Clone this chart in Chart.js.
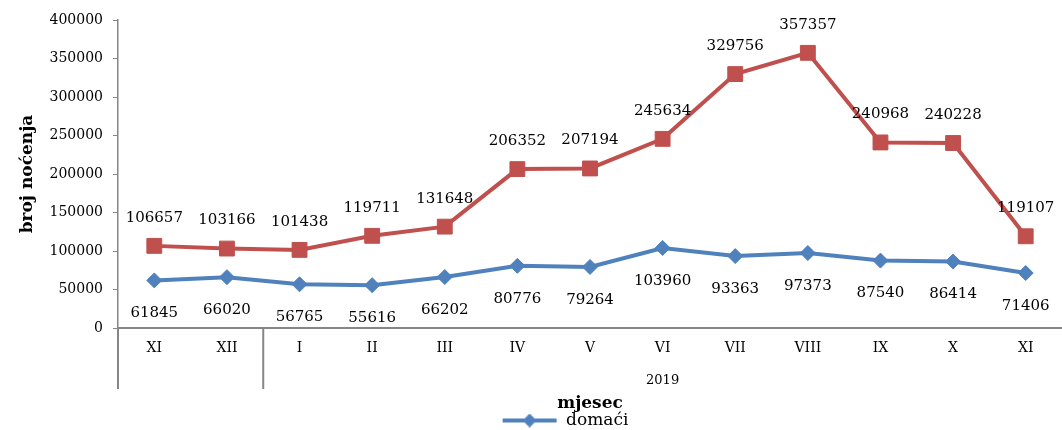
<!DOCTYPE html>
<html>
<head>
<meta charset="utf-8">
<script src="https://cdn.jsdelivr.net/npm/chart.js@4.4.1/dist/chart.umd.min.js"></script>
<style>
  html, body { margin: 0; padding: 0; background: #fff; overflow: hidden; }
  #wrap { width: 1062px; height: 430px; position: relative; }
</style>
</head>
<body>
<div id="wrap"><canvas id="myChart"></canvas></div>
<script>
const months = ['XI', 'XII', 'I', 'II', 'III', 'IV', 'V', 'VI', 'VII', 'VIII', 'IX', 'X', 'XI'];
const domaci = [61845, 66020, 56765, 55616, 66202, 80776, 79264, 103960, 93363, 97373, 87540, 86414, 71406];
const strani = [106657, 103166, 101438, 119711, 131648, 206352, 207194, 245634, 329756, 357357, 240968, 240228, 119107];
const yearLabels = ['', '2019'];
const yearSpans = [2, 11];

Chart.defaults.font.family = 'DejaVu Serif';
Chart.defaults.color = '#000';

const axisGray = '#868686';
const blue = '#4F81BD';
const red = '#C0504D';

// legend symbol: line with diamond, like the excel one
const legendMark = document.createElement('canvas');
legendMark.width = 56;
legendMark.height = 14;
(function () {
  const c = legendMark.getContext('2d');
  c.strokeStyle = blue;
  c.lineWidth = 4;
  c.beginPath();
  c.moveTo(1, 7);
  c.lineTo(55, 7);
  c.stroke();
  c.fillStyle = blue;
  c.beginPath();
  c.moveTo(28, 0);
  c.lineTo(35, 7);
  c.lineTo(28, 14);
  c.lineTo(21, 7);
  c.closePath();
  c.fill();
})();

const valueLabels = {
  id: 'valueLabels',
  afterDatasetsDraw(chart) {
    const ctx = chart.ctx;
    ctx.save();
    ctx.font = '15px "DejaVu Serif"';
    ctx.fillStyle = '#000';
    ctx.textAlign = 'center';
    ctx.textBaseline = 'middle';
    chart.data.datasets.forEach((ds, i) => {
      const meta = chart.getDatasetMeta(i);
      const off = ds.labelOffset;
      meta.data.forEach((pt, j) => {
        ctx.fillText(String(ds.data[j]), pt.x, pt.y + off);
      });
    });
    ctx.restore();
  }
};

const yearGroups = {
  id: 'yearGroups',
  afterLayout(chart) {
    // excel puts the legend a bit left of the plot centre
    if (chart.legend) chart.legend.left -= 50;
  },
  afterDraw(chart) {
    const ctx = chart.ctx;
    const xs = chart.scales.x;
    const area = chart.chartArea;
    const half = (xs.getPixelForValue(1) - xs.getPixelForValue(0)) / 2;
    ctx.save();
    ctx.strokeStyle = axisGray;
    ctx.lineWidth = 2;
    ctx.font = '13px "DejaVu Serif"';
    ctx.fillStyle = '#000';
    ctx.textAlign = 'center';
    ctx.textBaseline = 'middle';
    let start = 0;
    const edges = [0];
    yearSpans.forEach(s => { start += s; edges.push(start); });
    edges.forEach(e => {
      if (e >= months.length) return; // right end sits on the canvas edge
      const x = xs.getPixelForValue(e) - half;
      ctx.beginPath();
      ctx.moveTo(x, area.bottom);
      ctx.lineTo(x, area.bottom + 61);
      ctx.stroke();
    });
    yearLabels.forEach((t, i) => {
      const a = xs.getPixelForValue(edges[i]);
      const b = xs.getPixelForValue(edges[i + 1] - 1);
      ctx.fillText(t, (a + b) / 2, area.bottom + 53);
    });
    ctx.restore();
  }
};

const ctx = document.getElementById('myChart');
const myChart = new Chart(ctx, {
  type: 'line',
  data: {
    labels: months,
    datasets: [{
      label: 'domaći',
      data: domaci,
      borderColor: blue,
      backgroundColor: blue,
      borderWidth: 4,
      pointStyle: 'rectRot',
      pointRadius: 7.5,
      pointBorderWidth: 1,
      pointBackgroundColor: blue,
      pointBorderColor: blue,
      labelOffset: 33
    }, {
      label: 'strani',
      data: strani,
      borderColor: red,
      backgroundColor: red,
      borderWidth: 4,
      pointStyle: 'rect',
      pointRadius: 10.5,
      pointBorderWidth: 1,
      pointBackgroundColor: red,
      pointBorderColor: red,
      labelOffset: -28
    }]
  },
  options: {
    responsive: true,
    maintainAspectRatio: false,
    animation: false,
    layout: { autoPadding: false, padding: { top: 20, right: 0, left: 0, bottom: -9 } },
    plugins: {
      tooltip: { enabled: false },
      legend: {
        position: 'bottom',
        fullSize: false,
        labels: {
          usePointStyle: true,
          pointStyle: legendMark,
          pointStyleWidth: 56,
          padding: 4,
          font: { size: 17, lineHeight: 1 },
          filter: item => item.datasetIndex === 0
        }
      }
    },
    scales: {
      x: {
        offset: true,
        grid: { display: false, drawTicks: false },
        border: { display: true, color: axisGray, width: 2 },
        ticks: { padding: 12, font: { size: 14 }, maxRotation: 0 },
        title: {
          display: true,
          text: 'mjesec',
          font: { size: 17, weight: 'bold', lineHeight: 1 },
          padding: { top: 0, bottom: -4.5 }
        },
        afterFit: s => { s.height = 80; s.paddingLeft = 0; s.paddingRight = 0; }
      },
      y: {
        min: 0,
        max: 400000,
        ticks: { stepSize: 50000, padding: 10, font: { size: 14 }, callback: v => String(v) },
        grid: { drawOnChartArea: false, tickLength: 5, color: axisGray },
        border: { display: true, color: axisGray, width: 1.5 },
        title: {
          display: true,
          text: 'broj noćenja',
          font: { size: 17, weight: 'bold', lineHeight: 1 },
          padding: { top: 19.5, bottom: 0 }
        },
        afterFit: s => { s.width = 118; }
      }
    }
  },
  plugins: [valueLabels, yearGroups]
});
</script>
</body>
</html>
